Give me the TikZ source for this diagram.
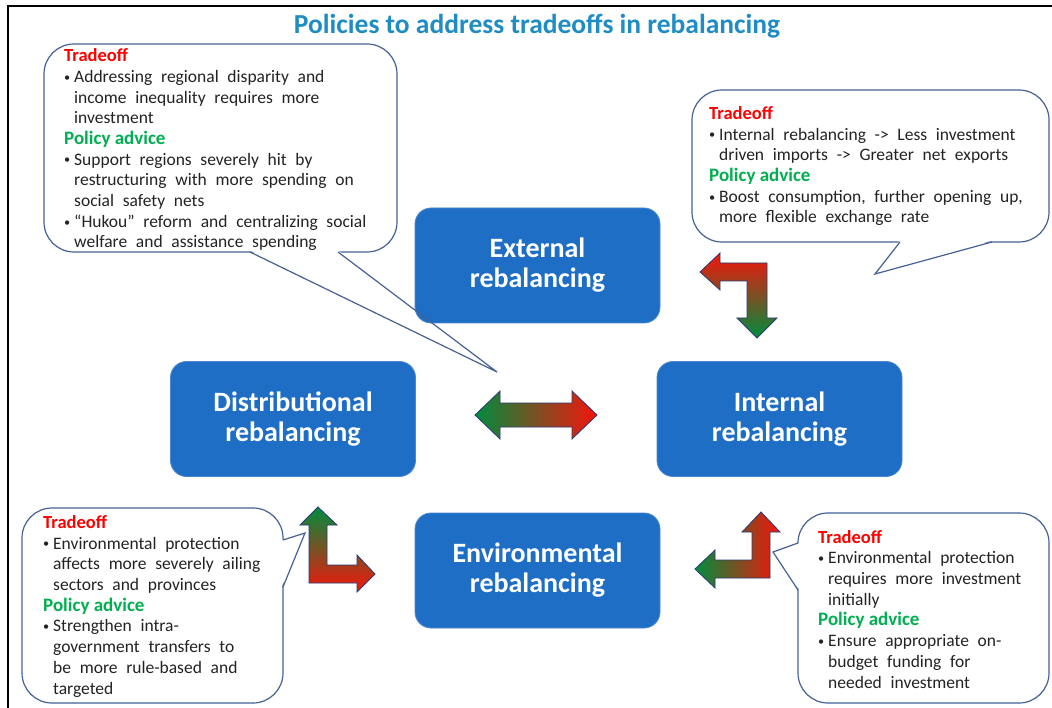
\documentclass[tikz,border=0pt]{standalone}
\usepackage{fontspec}
\setmainfont{Carlito}
\newfontfamily\notefont{Carlito}[WordSpace=2.2]
\usepackage{graphicx}
\usetikzlibrary{positioning}
\usetikzlibrary{calc}

\definecolor{boxblue}{RGB}{29,110,196}
\definecolor{boxedge}{RGB}{75,135,210}
\definecolor{titleblue}{RGB}{31,141,196}
\definecolor{noteedge}{RGB}{68,98,150}
\definecolor{offred}{RGB}{255,0,0}
\definecolor{advgreen}{RGB}{0,176,80}
\definecolor{arrred}{RGB}{245,20,10}
\definecolor{arrgreen}{RGB}{0,140,60}
\definecolor{arredge}{RGB}{40,60,120}
\definecolor{bodytext}{RGB}{35,35,35}

\newcommand{\notebul}{\makebox[10pt][l]{\raisebox{.15ex}{\scalebox{.7}{\textbullet}}}}
\newcommand{\notegap}{\hspace*{10pt}}
\newcommand{\toff}{{\rmfamily\fontsize{18.5}{20.7}\selectfont\color{offred}\bfseries Tradeoff}}
\newcommand{\padv}{{\rmfamily\fontsize{19}{20.7}\selectfont\color{advgreen}\bfseries Policy advice}}

\tikzset{
	rebal/.style={fill=boxblue, draw=boxedge, line width=.8pt, rounded corners=16pt,
		minimum width=245pt, minimum height=115pt, text=white, align=center,
		font=\fontsize{28}{30}\selectfont\bfseries},
	note/.style={draw=noteedge, fill=white, line width=1.2pt, rounded corners=30pt},
	notetail/.style={draw=noteedge, line width=1.2pt, line join=miter},
	notetext/.style={anchor=base west, inner sep=0pt, align=left, text=bodytext,
		font=\notefont\fontsize{17.5}{20.7}\selectfont},
	blockarrow/.style={draw=arredge, line width=.8pt, line join=miter},
}

\begin{document}
\begin{tikzpicture}[x=1pt, y=-1pt]
	\useasboundingbox (0,0) rectangle (1052,708);
	\fill[white] (0,0) rectangle (1052,708);
	\draw[line width=2pt] (8,708) -- (8,6) -- (1052,6);
	\node[anchor=base, text=titleblue, font=\fontsize{27.5}{30}\selectfont\bfseries] (title) at (537,34)
		{Policies to address tradeoffs in rebalancing};
%
	% callouts
	\draw[note] (44,44) rectangle (397,252);
	\fill[white] (250,250.5) -- (497,372) -- (338,250.5) -- cycle;
	\draw[note] (692,90) rectangle (1049,242);
	\fill[white] (900,240.5) -- (875,274) -- (992,240.5) -- cycle;
	\draw[note] (22,508) rectangle (283,703);
	\fill[white] (281.5,540) -- (305,533) -- (281.5,587) -- cycle;
	\draw[note] (798,513) rectangle (1049,703);
	\fill[white] (799.5,543) -- (773,552) -- (799.5,590) -- cycle;
%
	% blocks
	\node[rebal] (ext) at (537.5,265.5) {External\\rebalancing};
	\node[rebal] (dist) at (293,419) {Distributional\\rebalancing};
	\node[rebal] (int) at (779.5,419) {Internal\\rebalancing};
	\node[rebal] (env) at (537.5,570.5) {Environmental\\rebalancing};
%
	\draw[notetail] (250,252) -- (497,372) -- (338,252);
	\draw[notetail] (900,242) -- (875,274) -- (992,242);
	\draw[notetail] (283,540) -- (305,533) -- (283,587);
	\draw[notetail] (798,543) -- (773,552) -- (798,590);
%
	% text is placed by its last line
	\node[notetext] (distnote) at (64,248) {\toff\\
		\notebul Addressing regional disparity and\\
		\notegap income inequality requires more\\
		\notegap investment\\
		\padv\\
		\notebul Support regions severely hit by\\
		\notegap restructuring with more spending on\\
		\notegap social safety nets\\
		\notebul “Hukou” reform and centralizing social\\
		\notegap welfare and assistance spending};
	\node[notetext] (extnote) at (709,223) {\toff\\
		\notebul Internal rebalancing -> Less investment\\
		\notegap driven imports -> Greater net exports\\
		\padv\\
		\notebul Boost consumption, further opening up,\\
		\notegap more flexible exchange rate};
	\node[notetext] (envnote) at (43,694) {\toff\\
		\notebul Environmental protection\\
		\notegap affects more severely ailing\\
		\notegap sectors and provinces\\
		\padv\\
		\notebul Strengthen intra-\\
		\notegap government transfers to\\
		\notegap be more rule-based and\\
		\notegap targeted};
	\node[notetext] (intnote) at (818,688) {\toff\\
		\notebul Environmental protection\\
		\notegap requires more investment\\
		\notegap initially\\
		\padv\\
		\notebul Ensure appropriate on-\\
		\notegap budget funding for\\
		\notegap needed investment};
%
	% arrows
	\shade[blockarrow, left color=arrgreen, right color=arrred]
		(475,415) -- (500,391) -- (500,403) -- (572,403) -- (572,391) -- (597,415)
		-- (572,439) -- (572,427) -- (500,427) -- (500,439) -- cycle;
	\shade[blockarrow, top color=arrred, bottom color=arrgreen]
		(767,263) -- (767,318) -- (777,318) -- (757,338) -- (737,318) -- (747,318)
		-- (747,281) -- (720,281) -- (720,290) -- (700,272) -- (720,253) -- (720,263) -- cycle;
	\shade[blockarrow, top color=arrgreen, bottom color=arrred]
		(318,507) -- (337,525) -- (327,525) -- (327,565) -- (357,565) -- (357,555)
		-- (375,574) -- (357,592) -- (357,583) -- (309,583) -- (309,525) -- (300,525) -- cycle;
	\shade[blockarrow, left color=arrgreen, right color=arrred]
		(761,512) -- (780,532) -- (770,532) -- (770,578) -- (715,578) -- (715,588)
		-- (695,569) -- (715,550) -- (715,560) -- (752,560) -- (752,532) -- (742,532) -- cycle;
\end{tikzpicture}
\end{document}
